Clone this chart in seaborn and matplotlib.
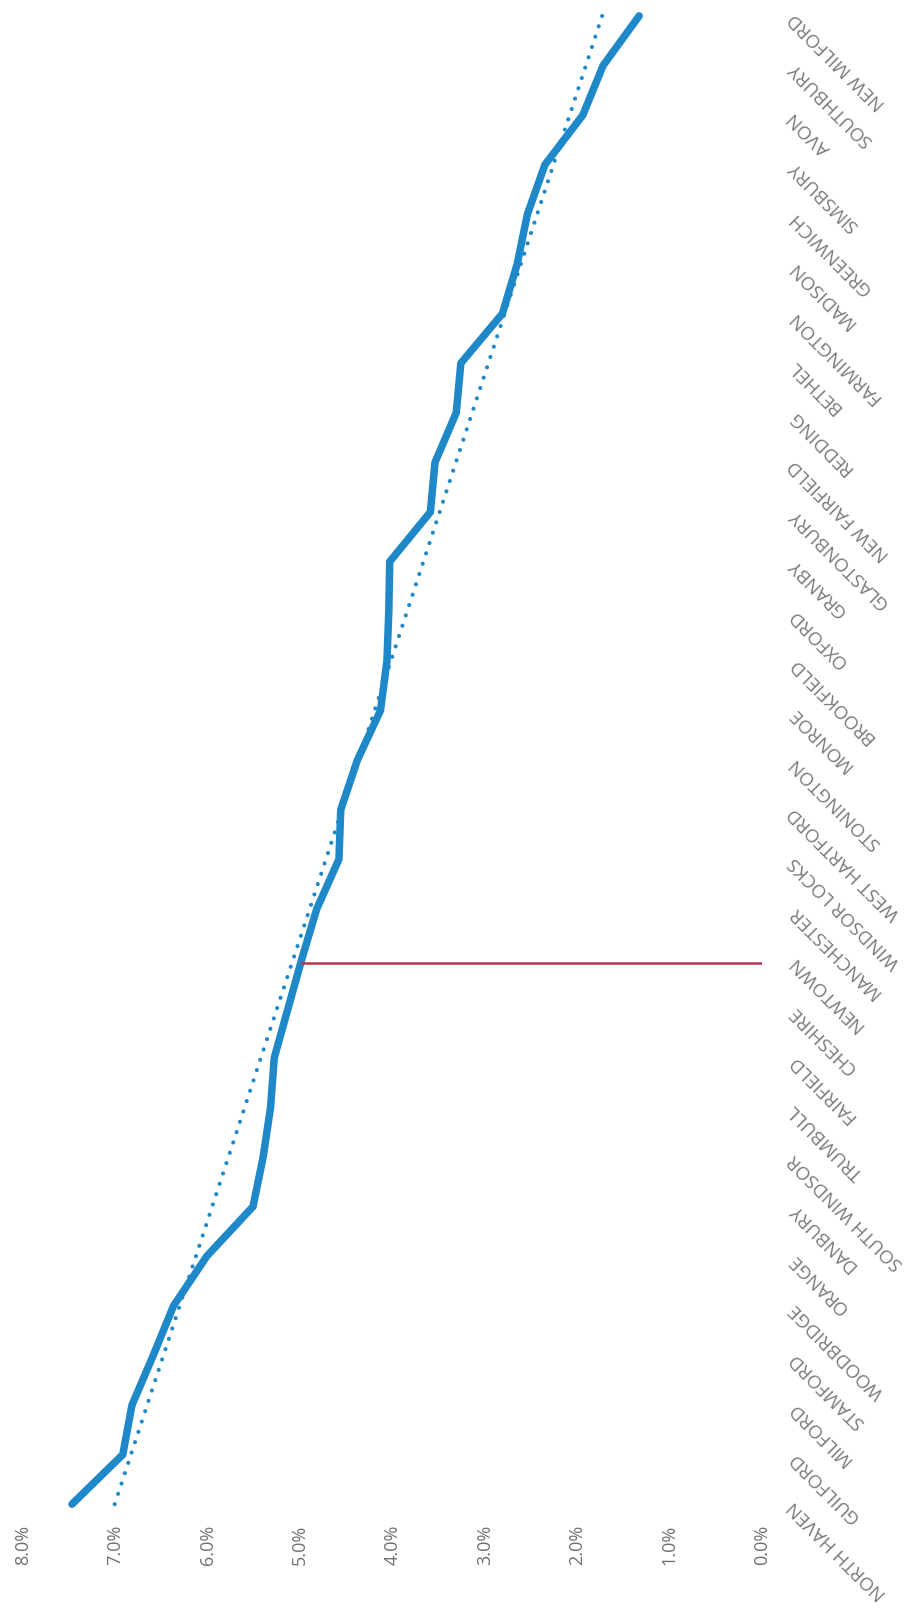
import numpy as np
import pandas as pd
import matplotlib
matplotlib.use("Agg")
import matplotlib.pyplot as plt
import seaborn as sns

# Towns ordered from the highest rate (bottom) to the lowest (top)
towns = [
    "NORTH HAVEN", "GUILFORD", "MILFORD", "STAMFORD", "WOODBRIDGE", "ORANGE",
    "DANBURY", "SOUTH WINDSOR", "TRUMBULL", "FAIRFIELD", "CHESHIRE", "NEWTOWN",
    "MANCHESTER", "WINDSOR LOCKS", "WEST HARTFORD", "STONINGTON", "MONROE",
    "BROOKFIELD", "OXFORD", "GRANBY", "GLASTONBURY", "NEW FAIRFIELD", "REDDING",
    "BETHEL", "FARMINGTON", "MADISON", "GREENWICH", "SIMSBURY", "AVON",
    "SOUTHBURY", "NEW MILFORD",
]
rates = [
    7.47, 6.92, 6.82, 6.59, 6.37, 6.01,
    5.51, 5.40, 5.32, 5.28, 5.13, 4.98,
    4.82, 4.58, 4.56, 4.38, 4.13,
    4.06, 4.04, 4.03, 3.59, 3.54, 3.31,
    3.26, 2.81, 2.65, 2.54, 2.35, 1.94,
    1.72, 1.33,
]
highlight_town = "NEWTOWN"
x_ticks = [8.0, 7.0, 6.0, 5.0, 4.0, 3.0, 2.0, 1.0, 0.0]
x_tick_labels = ["8.0%", "7.0%", "6.0%", "5.0%", "4.0%", "3.0%", "2.0%", "1.0%", "0.0%"]

df = pd.DataFrame({"town": towns, "rate": rates})
df["pos"] = np.arange(len(df))

# linear trend of rate against rank
slope, intercept = np.polyfit(df["pos"], df["rate"], 1)
trend = pd.DataFrame({"pos": df["pos"], "rate": slope * df["pos"] + intercept})

sns.set_style("white")
plt.rcParams["font.family"] = ["Open Sans", "DejaVu Sans"]

W, H = 916, 1616
fig = plt.figure(figsize=(W / 100, H / 100), dpi=100)
left_px, right_px = 23, 762
bottom_px, top_px = 87, 1610
ax = fig.add_axes([left_px / W, bottom_px / H, (right_px - left_px) / W, (top_px - bottom_px) / H])

blue = "#1f88c9"
red = "#b8344c"

sns.lineplot(data=trend, x="rate", y="pos", orient="y", sort=False, ax=ax,
             color=blue, linewidth=3.0, linestyle=(0, (0.01, 2.6)),
             dash_capstyle="round", zorder=2)
sns.lineplot(data=df, x="rate", y="pos", orient="y", sort=False, ax=ax,
             color=blue, linewidth=5.4, solid_capstyle="round",
             solid_joinstyle="round", zorder=3)

# marker line for the highlighted town, drawn just below its point
hl_pos = df.loc[df["town"] == highlight_town, "pos"].iloc[0] - 0.1
hl_rate = np.interp(hl_pos, df["pos"], df["rate"])
ax.plot([0, hl_rate], [hl_pos, hl_pos], color=red, linewidth=1.8, zorder=4)

ax.set_xlim(8.0, 0.0)
ax.set_ylim(-0.5, len(df) - 1 + 0.2)
ax.set_xticks(x_ticks)
ax.set_xticklabels(x_tick_labels, rotation=90, color="#707070", fontsize=13)
ax.set_yticks(df["pos"])
ax.set_yticklabels(df["town"], color="#7a7a7a", fontsize=13.5)
ax.yaxis.tick_right()
ax.tick_params(axis="x", length=0, pad=-3)
ax.tick_params(axis="y", length=0, pad=21)
plt.setp(ax.get_yticklabels(), rotation=135, ha="right", va="center",
         rotation_mode="anchor")
ax.set_xlabel("")
ax.set_ylabel("")
for s in ax.spines.values():
    s.set_visible(False)
ax.grid(False)

fig.savefig("out.png", dpi=100, facecolor="white")
